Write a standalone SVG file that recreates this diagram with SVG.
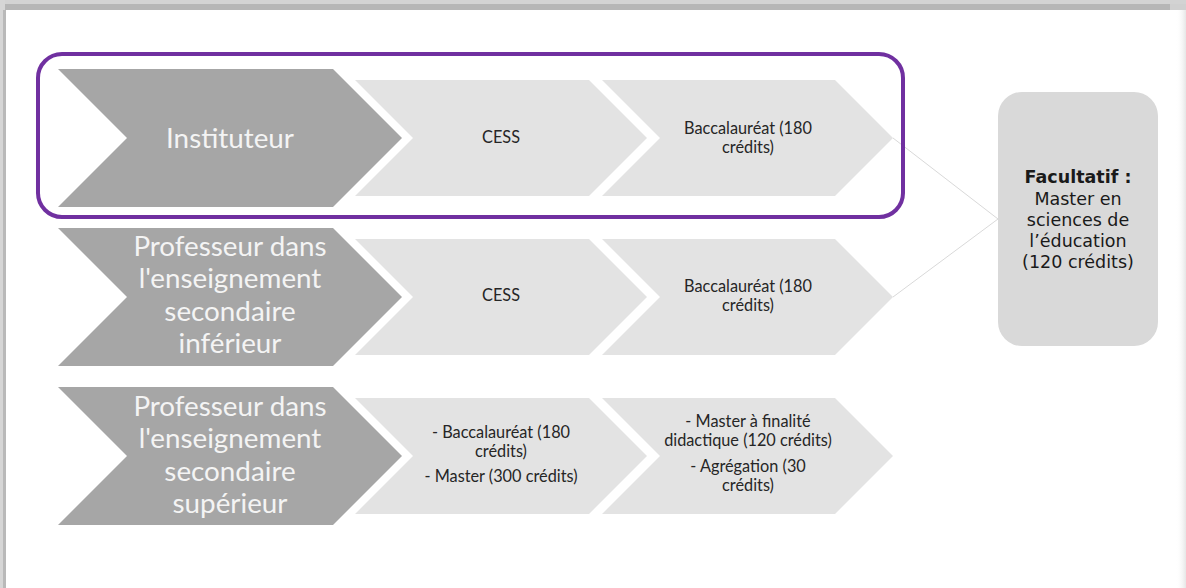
<svg xmlns="http://www.w3.org/2000/svg" width="1186" height="588" viewBox="0 0 1186 588">
  <style>
    .dark { fill: #a6a6a6; }
    .light { fill: #e3e3e3; }
    .dtxt { font-family: Lato, "Liberation Sans", sans-serif; font-size: 27.8px; fill: #f4f4f4; text-anchor: middle; }
    .ltxt { font-family: Lato, "Liberation Sans", sans-serif; font-size: 16.3px; fill: #262626; text-anchor: middle; }
    .btxt { font-family: "DejaVu Sans", Verdana, sans-serif; font-size: 17.5px; fill: #1a1a1a; text-anchor: middle; }
    .conn { stroke: #d9d9d9; stroke-width: 1; fill: none; }
  </style>
  <defs>
    <linearGradient id="rs" x1="0" y1="0" x2="1" y2="0">
      <stop offset="0" stop-color="#ffffff" stop-opacity="0"/>
      <stop offset="1" stop-color="#e6e6e6"/>
    </linearGradient>
  </defs>
  <rect x="0" y="0" width="1186" height="588" fill="#ffffff"/>
  <!-- frame -->
  <rect x="0" y="0" width="1186" height="4" fill="#d3d3d3"/>
  <rect x="0" y="4" width="1170" height="6" fill="#b6b6b6"/>
  <rect x="1170" y="4" width="16" height="6" fill="#d0d0d0"/>
  <rect x="0" y="0" width="5" height="588" fill="#d6d6d6"/>
  <rect x="3" y="10" width="3" height="578" fill="#b9b9b9"/>
  <rect x="1176" y="10" width="10" height="578" fill="url(#rs)"/>

  <g id="connectors">
    <line class="conn" x1="893" y1="138" x2="998" y2="219"/>
    <line class="conn" x1="893" y1="297" x2="998" y2="219"/>
  </g>

  <g id="row1-title">
    <polygon class="dark" points="58,69 333,69 402,138 333,207 58,207 127,138"/>
    <text class="dtxt" x="230" y="147.5">Instituteur</text>
  </g>
  <g id="row1-cess">
    <polygon class="light" points="355,80 589,80 647,138 589,196 355,196 413,138"/>
    <text class="ltxt" x="501" y="143">CESS</text>
  </g>
  <g id="row1-bac">
    <polygon class="light" points="602,80 835,80 893,138 835,196 602,196 660,138"/>
    <text class="ltxt" x="748" y="134">Baccalauréat (180</text>
    <text class="ltxt" x="748" y="153">crédits)</text>
  </g>

  <g id="row2-title">
    <polygon class="dark" points="58,228 333,228 402,297 333,366 58,366 127,297"/>
    <text class="dtxt" x="230" y="255.5">Professeur dans</text>
    <text class="dtxt" x="230" y="288">l'enseignement</text>
    <text class="dtxt" x="230" y="320.5">secondaire</text>
    <text class="dtxt" x="230" y="353">inférieur</text>
  </g>
  <g id="row2-cess">
    <polygon class="light" points="355,239 589,239 647,297 589,355 355,355 413,297"/>
    <text class="ltxt" x="501" y="301">CESS</text>
  </g>
  <g id="row2-bac">
    <polygon class="light" points="602,239 835,239 893,297 835,355 602,355 660,297"/>
    <text class="ltxt" x="748" y="292">Baccalauréat (180</text>
    <text class="ltxt" x="748" y="311">crédits)</text>
  </g>

  <g id="row3-title">
    <polygon class="dark" points="58,387 333,387 402,456 333,525 58,525 127,456"/>
    <text class="dtxt" x="230" y="415.5">Professeur dans</text>
    <text class="dtxt" x="230" y="448">l'enseignement</text>
    <text class="dtxt" x="230" y="480.5">secondaire</text>
    <text class="dtxt" x="230" y="513">supérieur</text>
  </g>
  <g id="row3-step1">
    <polygon class="light" points="355,398 589,398 647,456 589,514 355,514 413,456"/>
    <text class="ltxt" x="501" y="438">- Baccalauréat (180</text>
    <text class="ltxt" x="501" y="457">crédits)</text>
    <text class="ltxt" x="501" y="482">- Master (300 crédits)</text>
  </g>
  <g id="row3-step2">
    <polygon class="light" points="602,398 835,398 893,456 835,514 602,514 660,456"/>
    <text class="ltxt" x="748" y="427">- Master à finalité</text>
    <text class="ltxt" x="748" y="446">didactique (120 crédits)</text>
    <text class="ltxt" x="748" y="472">- Agrégation (30</text>
    <text class="ltxt" x="748" y="491">crédits)</text>
  </g>

  <g id="highlight">
    <rect x="38" y="54" width="865" height="163" rx="24" ry="24" fill="none" stroke="#7030a0" stroke-width="4"/>
  </g>

  <g id="facultatif">
    <rect x="998" y="92" width="160" height="254" rx="24" ry="24" fill="#d9d9d9"/>
    <text class="btxt" x="1078" y="183" font-weight="bold">Facultatif :</text>
    <text class="btxt" x="1078" y="204.5">Master en</text>
    <text class="btxt" x="1078" y="225.5">sciences de</text>
    <text class="btxt" x="1078" y="246.5">l’éducation</text>
    <text class="btxt" x="1078" y="268">(120 crédits)</text>
  </g>
</svg>
